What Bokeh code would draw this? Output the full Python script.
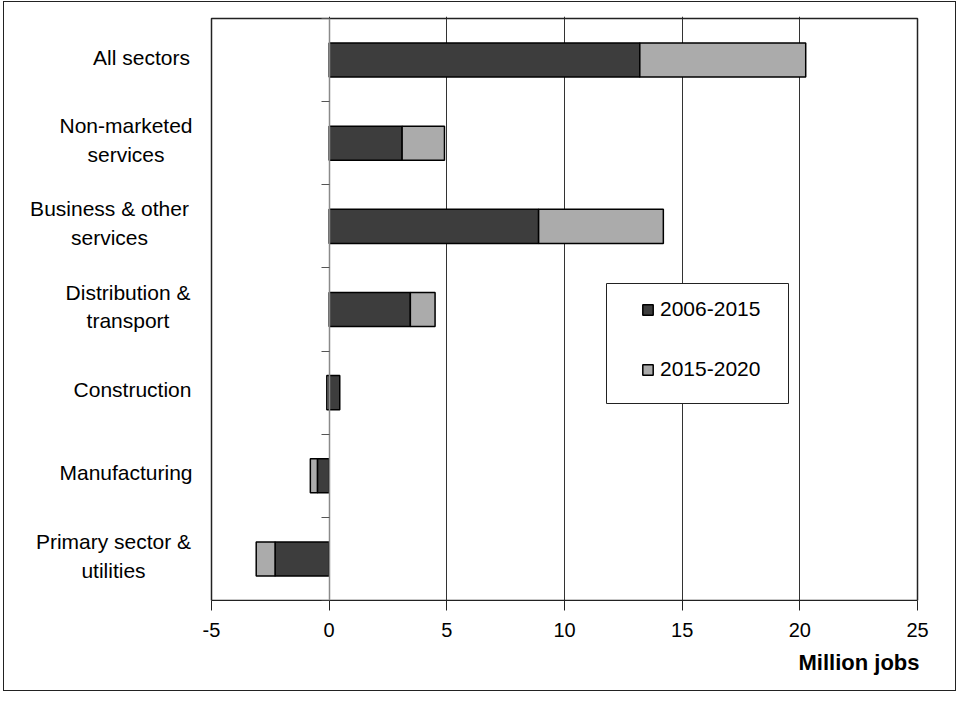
from bokeh.plotting import figure
from bokeh.models import (Range1d, LinearAxis, FixedTicker, Legend, LegendItem,
                          Title, BoxAnnotation, ColumnDataSource)
from bokeh.core.properties import value
from bokeh.embed import file_html
from bokeh.resources import INLINE

# ---------------- data ----------------
sectors = ["Primary sector &\nutilities", "Manufacturing", "Construction",
           "Distribution &\ntransport", "Business & other\nservices",
           "Non-marketed\nservices", "All sectors"]
growth_2006_2015 = [-2.3, -0.5, 0.45, 3.45, 8.9, 3.1, 13.2]
growth_2015_2020 = [-0.8, -0.3, -0.1, 1.05, 5.3, 1.8, 7.05]
series_names = ["2006-2015", "2015-2020"]
x_ticks = [-5, 0, 5, 10, 15, 20, 25]
x_axis_title = "Million jobs"

# ---------------- layout / style (absolute page pixels) ----------------
FONT = "Liberation Sans"
FS_TICK = "20px"
FS_CAT = "21px"
FS_LEG = "21px"
FS_TITLE = "22px"
colors = ["#3d3d3d", "#ababab"]
OX, OY = 4, 2                 # canvas origin on the page (inside the outer border)
FIG_W, FIG_H = 951, 688
FRAME_L = 24                  # frame left edge (labels live inside the frame)
AXIS_L, AXIS_R = 211, 917     # where x = -5 and x = 25 sit
FRAME_R = 919
ROW_T, FRAME_B = 18, 600      # top of the category band, bottom of frame
FRAME_T = 16
label_centers_px = [113, 125.5, 132, 127.5, 109, 125.5, 141]
LEG_BOX = (606, 283, 788, 403)   # left, top, right, bottom
LEG_GLYPH_X, LEG_ROW2_BOTTOM = 641, 381

n = len(sectors)
ypos = list(range(n))
x_lo, x_hi = x_ticks[0], x_ticks[-1]
ppu_x = (AXIS_R - AXIS_L) / (x_hi - x_lo)
ppu_y = (FRAME_B - ROW_T) / n
x_start = x_lo - (AXIS_L - FRAME_L) / ppu_x
x_end = x_hi + (FRAME_R - AXIS_R) / ppu_x
y_top = (n - 0.5) + (ROW_T - FRAME_T) / ppu_y

def px_to_x(px):
    return x_lo + (px - AXIS_L) / ppu_x

def py_to_y(py):
    return (n - 0.5) - (py - ROW_T) / ppu_y

# stacked positions (positives and negatives stacked separately, like Excel)
pos_cum = [0.0] * n
neg_cum = [0.0] * n
stacks = []
for vals in (growth_2006_2015, growth_2015_2020):
    lefts, rights = [], []
    for i, v in enumerate(vals):
        if v >= 0:
            l = pos_cum[i]; r = l + v; pos_cum[i] = r
        else:
            r = neg_cum[i]; l = r + v; neg_cum[i] = l
        lefts.append(l); rights.append(r)
    stacks.append((lefts, rights))

p = figure(frame_width=FRAME_R - FRAME_L, frame_height=FRAME_B - FRAME_T,
           x_range=Range1d(x_start, x_end), y_range=Range1d(-0.5, y_top),
           output_backend="svg", toolbar_location=None,
           min_border_left=FRAME_L - OX, min_border_right=FIG_W + OX - FRAME_R,
           min_border_top=FRAME_T - OY, min_border_bottom=FIG_H + OY - FRAME_B,
           y_axis_location=None,
           background_fill_color="white", border_fill_color="white")
p.styles = {"border": "1px solid #222", "margin-left": f"{OX - 1}px",
            "margin-top": f"{OY - 1}px"}
p.outline_line_color = None

# x axis
xa = p.xaxis[0]
xa.bounds = (x_lo, x_hi)
xa.ticker = FixedTicker(ticks=x_ticks)
xa.major_label_overrides = {t: str(t) for t in x_ticks}
xa.minor_tick_line_color = None
xa.major_tick_in = 0
xa.major_tick_out = 10
xa.axis_line_color = "#222"
xa.major_tick_line_color = "#222"
xa.major_label_text_font = FONT
xa.major_label_text_font_size = FS_TICK
xa.major_label_text_color = "black"
xa.major_label_standoff = 12

p.xgrid.ticker = FixedTicker(ticks=x_ticks[1:-1])
p.xgrid.grid_line_color = "#333"
p.xgrid.grid_line_width = 1
p.ygrid.visible = False

# plot-area border (from -5 to 25 across the full category range)
p.add_layout(BoxAnnotation(left=x_lo, right=x_hi, bottom=-0.5, top=n - 0.5,
                           fill_alpha=0, line_color="#222", line_alpha=1,
                           line_width=1.5, level="underlay"))

# bars
renderers = []
for k, (lefts, rights) in enumerate(stacks):
    src = ColumnDataSource(dict(y=ypos, left=lefts, right=rights))
    r = p.hbar(y="y", left="left", right="right", height=0.41, source=src,
               fill_color=colors[k], line_color="black", line_width=1.5)
    renderers.append(r)

# category axis at zero with ticks between categories
ya = LinearAxis(fixed_location=0, bounds=(-0.5, n - 0.5),
                ticker=FixedTicker(ticks=[i - 0.5 for i in range(n + 1)]),
                axis_line_color="#8a8a8a", axis_line_width=1.5,
                major_tick_in=0, major_tick_out=8,
                major_tick_line_color="#555",
                minor_tick_line_color=None,
                major_label_text_color=None,
                major_label_text_font_size="1px")
p.add_layout(ya, "left")

# category labels (inside the frame, left of x = -5)
lab_src = ColumnDataSource(dict(x=[x_lo] * n, y=ypos, text=sectors,
                                xo=[c - AXIS_L for c in label_centers_px]))
p.text(x="x", y="y", text="text", x_offset="xo", y_offset=-3, source=lab_src,
       text_align="center", text_baseline="middle",
       text_font=value(FONT), text_font_size=FS_CAT, text_color="black",
       text_line_height=1.25)

# x axis title
p.add_layout(Title(text=x_axis_title, align="right", text_font=FONT,
                   text_font_size=FS_TITLE, text_font_style="bold",
                   text_color="black", standoff=16), "below")

# legend box + legend
p.add_layout(BoxAnnotation(left=px_to_x(LEG_BOX[0]), right=px_to_x(LEG_BOX[2]),
                           top=py_to_y(LEG_BOX[1]), bottom=py_to_y(LEG_BOX[3]),
                           fill_color="white", fill_alpha=1,
                           line_color="#222", line_alpha=1, line_width=1))
legend = Legend(items=[LegendItem(label=series_names[i], renderers=[renderers[i]])
                       for i in range(2)],
                location=(LEG_GLYPH_X - FRAME_L, FRAME_B - LEG_ROW2_BOTTOM),
                padding=0, spacing=36, margin=0,
                glyph_width=13, glyph_height=13, label_standoff=6,
                label_text_font=FONT, label_text_font_size=FS_LEG,
                label_text_color="black", label_height=22,
                border_line_color=None, background_fill_alpha=0)
p.add_layout(legend, "center")

open("out.html", "w").write(file_html(p, INLINE))
